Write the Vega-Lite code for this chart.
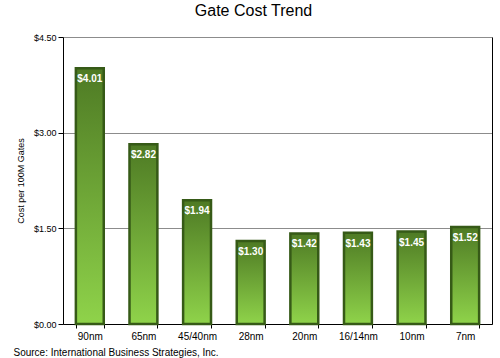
{
  "$schema": "https://vega.github.io/schema/vega-lite/v6.json",
  "width": 429,
  "height": 287,
  "autosize": {"type": "none"},
  "padding": {"left": 63, "top": 37, "right": 8, "bottom": 34},
  "background": "white",
  "config": {
    "font": "Liberation Sans",
    "view": {"stroke": null}
  },
  "title": {
    "text": "Gate Cost Trend",
    "fontSize": 16,
    "fontWeight": "normal",
    "color": "#000000",
    "anchor": "middle",
    "dx": -24,
    "offset": 14
  },
  "data": {
    "values": [
      {"node": "90nm", "cost": 4.01},
      {"node": "65nm", "cost": 2.82},
      {"node": "45/40nm", "cost": 1.94},
      {"node": "28nm", "cost": 1.30},
      {"node": "20nm", "cost": 1.42},
      {"node": "16/14nm", "cost": 1.43},
      {"node": "10nm", "cost": 1.45},
      {"node": "7nm", "cost": 1.52}
    ]
  },
  "encoding": {
    "x": {
      "field": "node",
      "type": "nominal",
      "sort": null,
      "scale": {"paddingInner": 0.48, "paddingOuter": 0.24},
      "axis": {
        "title": "Source:  International  Business  Strategies,  Inc.",
        "titleFontSize": 10,
        "titleFontWeight": "normal",
        "titleColor": "#000000",
        "titleAnchor": "start",
        "titleAlign": "left",
        "titleX": -50,
        "titlePadding": 6,
        "labelAngle": 0,
        "labelFontSize": 10,
        "labelColor": "#000000",
        "labelPadding": 3,
        "tickBand": "extent",
        "tickSize": 4,
        "tickColor": "#000000",
        "domainColor": "#000000",
        "domainWidth": 1
      }
    }
  },
  "layer": [
    {
      "mark": {
        "type": "bar",
        "stroke": "#365a17",
        "strokeWidth": 2.5,
        "color": {
          "gradient": "linear",
          "x1": 0, "y1": 0, "x2": 0, "y2": 1,
          "stops": [
            {"offset": 0, "color": "#4e7a24"},
            {"offset": 1, "color": "#8fd34a"}
          ]
        }
      },
      "encoding": {
        "y": {
          "field": "cost",
          "type": "quantitative",
          "scale": {"domain": [0, 4.5], "nice": false},
          "axis": {
            "values": [0, 1.5, 3, 4.5],
            "format": "$.2f",
            "title": "Cost per 100M Gates",
            "titleFontSize": 9,
            "titleFontWeight": "normal",
            "titleColor": "#000000",
            "titlePadding": 8,
            "labelFontSize": 9,
            "labelColor": "#000000",
            "labelPadding": 2,
            "tickSize": 5,
            "tickColor": "#000000",
            "domainColor": "#000000",
            "grid": true,
            "gridColor": "#8c8c8c",
            "gridWidth": 1.2
          }
        }
      }
    },
    {
      "mark": {
        "type": "text",
        "color": "white",
        "fontWeight": "bold",
        "fontSize": 10,
        "baseline": "top",
        "dy": 6
      },
      "encoding": {
        "y": {"field": "cost", "type": "quantitative", "axis": null},
        "text": {"field": "cost", "type": "quantitative", "format": "$.2f"}
      }
    },
    {
      "mark": {"type": "rule", "opacity": 0},
      "encoding": {
        "y": {
          "field": "cost",
          "type": "quantitative",
          "axis": {
            "orient": "right",
            "labels": false,
            "ticks": false,
            "grid": false,
            "title": null,
            "domainColor": "#000000"
          }
        }
      }
    }
  ],
  "resolve": {"axis": {"y": "independent"}}
}
